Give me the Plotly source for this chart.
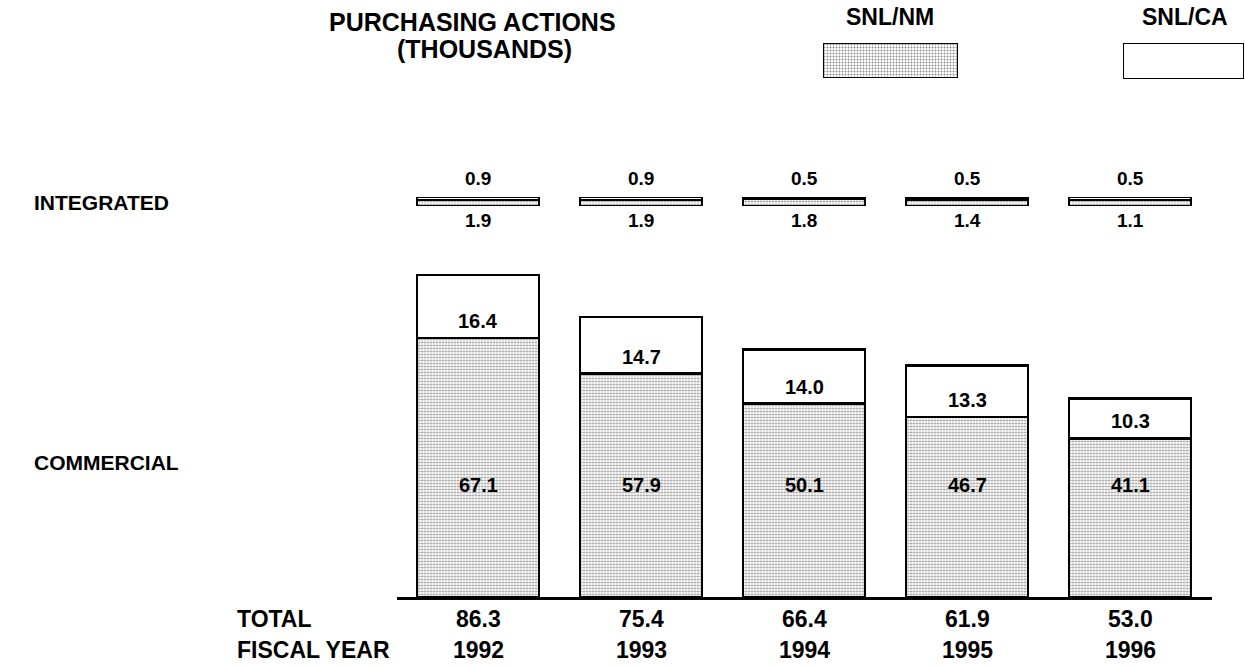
import plotly.graph_objects as go

# ---- data ----
years = ["1992", "1993", "1994", "1995", "1996"]
commercial_nm = [67.1, 57.9, 50.1, 46.7, 41.1]
commercial_ca = [16.4, 14.7, 14.0, 13.3, 10.3]
integrated_nm = [1.9, 1.9, 1.8, 1.4, 1.1]
integrated_ca = [0.9, 0.9, 0.5, 0.5, 0.5]
totals = [86.3, 75.4, 66.4, 61.9, 53.0]
series_names = ["SNL/NM", "SNL/CA"]

W, H = 1245, 667
FONT = "Liberation Sans"


def px(x):
    return x / W


def py(y):
    return 1 - y / H


stipple = dict(shape=".", fgcolor="#1a1a1a", bgcolor="white", size=3, solidity=0.35)
outline = dict(color="black", width=2.5)

fig = go.Figure()

# commercial stacked bars
fig.add_trace(go.Bar(x=years, y=commercial_nm, name=series_names[0], xaxis="x", yaxis="y",
                     marker=dict(color="white", pattern=stipple, line=outline), showlegend=False))
fig.add_trace(go.Bar(x=years, y=commercial_ca, name=series_names[1], xaxis="x", yaxis="y",
                     marker=dict(color="white", line=outline), showlegend=False))

# integrated thin bars (shares of each year's integrated total, shown as a band)
int_tot = [a + b for a, b in zip(integrated_nm, integrated_ca)]
fig.add_trace(go.Bar(x=years, y=[a / t for a, t in zip(integrated_nm, int_tot)], xaxis="x", yaxis="y2",
                     marker=dict(color="white", pattern=stipple, line=outline), showlegend=False))
fig.add_trace(go.Bar(x=years, y=[b / t for b, t in zip(integrated_ca, int_tot)], xaxis="x", yaxis="y2",
                     marker=dict(color="white", line=outline), showlegend=False))

# legend swatches
fig.add_trace(go.Bar(x=[series_names[0]], y=[1], width=[1], xaxis="x3", yaxis="y3",
                     marker=dict(color="white", pattern=stipple, line=dict(color="black", width=2)),
                     showlegend=False))
fig.add_trace(go.Bar(x=[series_names[1]], y=[1], width=[1], xaxis="x4", yaxis="y4",
                     marker=dict(color="white", line=dict(color="black", width=2)),
                     showlegend=False))

ann = []


def f(size):
    return dict(family=FONT, color="black", weight="bold", size=size)


# values in commercial bars
for i, (nm, ca) in enumerate(zip(commercial_nm, commercial_ca)):
    ann.append(dict(x=i, y=py(485), xref="x", yref="paper", text=f"{nm:.1f}", showarrow=False,
                    font=f(20), xanchor="center", yanchor="middle"))
    ann.append(dict(x=i, y=nm, xref="x", yref="y", text=f"{ca:.1f}", showarrow=False,
                    font=f(20), xanchor="center", yanchor="middle", yshift=17))

# integrated labels
for i, (nm, ca) in enumerate(zip(integrated_nm, integrated_ca)):
    ann.append(dict(x=i, y=1, xref="x", yref="y2", text=f"{ca:.1f}", showarrow=False,
                    font=f(19), xanchor="center", yanchor="middle", yshift=19))
    ann.append(dict(x=i, y=0, xref="x", yref="y2", text=f"{nm:.1f}", showarrow=False,
                    font=f(19), xanchor="center", yanchor="middle", yshift=-14))

# totals and years
for i, (yr, tot) in enumerate(zip(years, totals)):
    ann.append(dict(x=i, y=py(619), xref="x", yref="paper", text=f"{tot:.1f}", showarrow=False,
                    font=f(23), xanchor="center", yanchor="middle"))
    ann.append(dict(x=i, y=py(650), xref="x", yref="paper", text=yr, showarrow=False,
                    font=f(23), xanchor="center", yanchor="middle"))

# row labels
for txt, x, y, s in [("INTEGRATED", 32, 202, 21), ("COMMERCIAL", 32, 462, 21),
                     ("TOTAL", 235, 619, 23), ("FISCAL YEAR", 235, 650, 23)]:
    ann.append(dict(x=px(x), y=py(y), xref="paper", yref="paper", text=txt, showarrow=False,
                    font=f(s), xanchor="left", yanchor="middle"))

# title and legend labels
ann.append(dict(x=px(472), y=py(22), xref="paper", yref="paper", text="PURCHASING ACTIONS",
                showarrow=False, font=f(25), xanchor="center", yanchor="middle"))
ann.append(dict(x=px(484), y=py(49), xref="paper", yref="paper", text="(THOUSANDS)",
                showarrow=False, font=f(25), xanchor="center", yanchor="middle"))
ann.append(dict(x=px(890), y=py(17), xref="paper", yref="paper", text=series_names[0],
                showarrow=False, font=f(23), xanchor="center", yanchor="middle"))
ann.append(dict(x=px(1185), y=py(17), xref="paper", yref="paper", text=series_names[1],
                showarrow=False, font=f(23), xanchor="center", yanchor="middle"))

fig.update_layout(
    width=W, height=H,
    margin=dict(l=0, r=0, t=0, b=0),
    paper_bgcolor="white", plot_bgcolor="white",
    barmode="stack", bargap=0.25,
    annotations=ann,
    xaxis=dict(domain=[px(396.5), px(1211.5)], range=[-0.5, 4.5], type="category",
               showline=True, linecolor="black", linewidth=2.5, showticklabels=False,
               ticks="", showgrid=False, zeroline=False, anchor="y"),
    yaxis=dict(domain=[py(597), py(269)], range=[0, 85], visible=False, anchor="x"),
    yaxis2=dict(domain=[py(206), py(197)], range=[0, 1], visible=False, anchor="x"),
    xaxis3=dict(domain=[px(823), px(958)], range=[-0.5, 0.5], visible=False, anchor="y3"),
    yaxis3=dict(domain=[py(78), py(43)], range=[0, 1], visible=False, anchor="x3"),
    xaxis4=dict(domain=[px(1123), px(1244)], range=[-0.5, 0.5], visible=False, anchor="y4"),
    yaxis4=dict(domain=[py(79), py(43)], range=[0, 1], visible=False, anchor="x4"),
    showlegend=False,
)

fig.write_html("out.html", config={"displayModeBar": False},
               post_script="document.body.style.margin='0px';document.body.style.overflow='hidden';")
